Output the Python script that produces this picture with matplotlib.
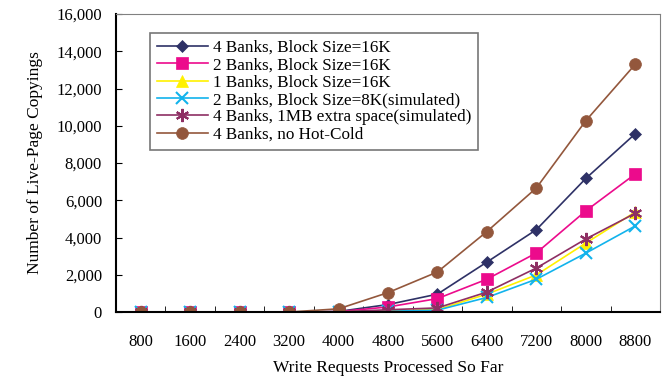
import matplotlib.pyplot as plt
import numpy as np

plt.rcParams['font.family'] = ['Liberation Serif', 'DejaVu Serif']

requests = ["800", "1600", "2400", "3200", "4000", "4800", "5600", "6400", "7200", "8000", "8800"]

banks4_16k = [0, 0, 0, 0, 30, 400, 960, 2680, 4420, 7170, 9570]
banks2_16k = [0, 0, 0, 0, 20, 270, 720, 1760, 3170, 5430, 7410]
banks1_16k = [0, 0, 0, 0, 0, 60, 130, 960, 1990, 3700, 5370]
banks2_8k = [0, 0, 0, 0, 0, 40, 100, 780, 1760, 3160, 4620]
banks4_1mb = [0, 0, 0, 0, 10, 120, 220, 1070, 2360, 3920, 5300]
banks4_nohc = [0, 0, 0, 0, 170, 1040, 2150, 4320, 6660, 10270, 13300]

series = [
    ("4 Banks, Block Size=16K", banks4_16k, "#2E3166", "D", 6.5),
    ("2 Banks, Block Size=16K", banks2_16k, "#EC0B8C", "s", 8.5),
    ("1 Banks, Block Size=16K", banks1_16k, "#FFF100", "^", 8.5),
    ("2 Banks, Block Size=8K(simulated)", banks2_8k, "#12B3EC", "x", 8.5),
    ("4 Banks, 1MB extra space(simulated)", banks4_1mb, "#8E2F63", (6, 2, 0), 9.5),
    ("4 Banks, no Hot-Cold", banks4_nohc, "#93573C", "o", 8.5),
]

fig = plt.figure(figsize=(6.66, 3.79), dpi=100)
ax = fig.add_axes([116 / 666, 1 - 312 / 379, 544 / 666, 298 / 379])

x = np.arange(len(requests))
for label, vals, color, marker, ms in series:
    thin = marker == "x" or isinstance(marker, tuple)
    ax.plot(x, vals, color=color, marker=marker, markersize=ms, linewidth=1.2,
            markeredgewidth=1.5 if thin else 0.5,
            markeredgecolor=color, label=label)

ax.set_xlim(-0.5, len(requests) - 0.5)
ax.set_ylim(0, 16000)
ax.set_yticks(np.arange(0, 16001, 2000))
ax.set_yticklabels([f"{v:,}" for v in range(0, 16001, 2000)], fontsize=12)
ax.set_xticks(x)
ax.set_xticklabels(requests, fontsize=12)
ax.set_xticks(np.arange(-0.5, len(requests), 1), minor=True)
ax.tick_params(axis='x', which='major', length=0, pad=16)
ax.tick_params(axis='x', which='minor', direction='in', length=4)
ax.tick_params(axis='y', direction='in', length=4, pad=10)

ax.spines['left'].set_color('black')
ax.spines['bottom'].set_color('black')
ax.spines['left'].set_linewidth(1.5)
ax.spines['bottom'].set_linewidth(1.5)
ax.spines['top'].set_color('#808080')
ax.spines['right'].set_color('#808080')

ax.set_xlabel("Write Requests Processed So Far", fontsize=12.5, labelpad=7)
ax.set_ylabel("Number of Live-Page Copyings", fontsize=12.5, labelpad=10)

leg = ax.legend(loc='upper left', bbox_to_anchor=(34 / 544, 1 - 19 / 298), fontsize=12.3,
                frameon=True, fancybox=False, edgecolor='#555555', handlelength=3.0,
                handletextpad=0.3, labelspacing=0.08, borderpad=0.4, borderaxespad=0)
leg.get_frame().set_linewidth(1.2)

fig.savefig("out.png", dpi=100)
